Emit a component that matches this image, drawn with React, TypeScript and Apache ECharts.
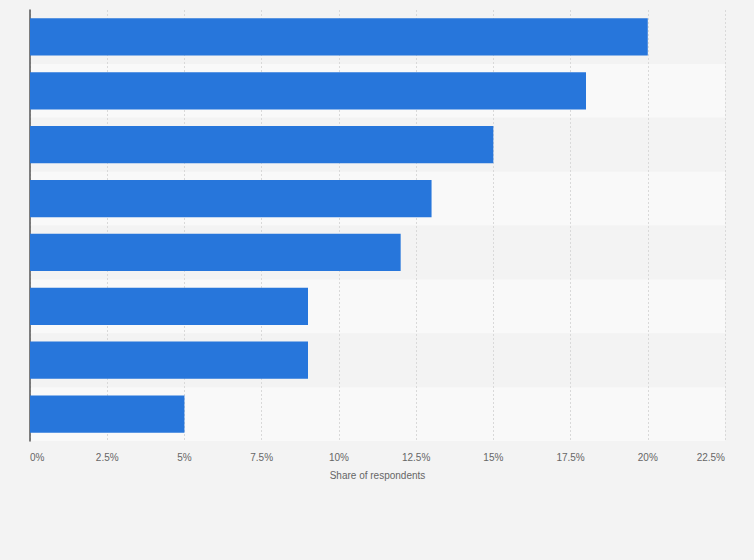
import React, { useEffect, useRef } from "react";
import * as echarts from "echarts";

const categories = ["A", "B", "C", "D", "E", "F", "G", "H"];
const values = [20, 18, 15, 13, 12, 9, 9, 5];
const tickMax = 22.5;
const tickStep = 2.5;

export default function App() {
  const ref = useRef<HTMLDivElement>(null);
  useEffect(() => {
    const chart = echarts.init(ref.current!, null, { renderer: "svg" });
    chart.setOption({
      animation: false,
      backgroundColor: "#f3f3f3",
      grid: { left: 30, right: 29, top: 10, bottom: 119, containLabel: false },
      xAxis: {
        type: "value",
        min: 0,
        max: tickMax,
        interval: tickStep,
        name: "Share of respondents",
        nameLocation: "middle",
        nameGap: 29,
        nameTextStyle: { color: "#666", fontSize: 10, fontFamily: "Arial, Liberation Sans, sans-serif" },
        axisLine: { show: false },
        axisTick: { show: false },
        axisLabel: {
          color: "#666",
          fontSize: 10,
          margin: 11,
          alignMinLabel: "left",
          alignMaxLabel: "right",
          fontFamily: "Arial, Liberation Sans, sans-serif",
          formatter: (v: number) => `${v}%`,
        },
        splitLine: { show: true, lineStyle: { color: "#d9d9d9", type: [2, 2], width: 1 } },
      },
      yAxis: {
        type: "category",
        data: categories,
        inverse: true,
        axisLine: { show: true, lineStyle: { color: "#555", width: 1.5 } },
        axisTick: { show: false },
        axisLabel: { show: false },
        splitArea: { show: true, areaStyle: { color: ["#f3f3f3", "#f9f9f9"] } },
      },
      series: [
        {
          type: "bar",
          data: values,
          barCategoryGap: "31%",
          itemStyle: { color: "#2776db" },
        },
      ],
    });
    return () => chart.dispose();
  }, []);
  return (
    <div
      ref={ref}
      style={{ position: "fixed", left: 0, top: 0, width: 754, height: 560 }}
    />
  );
}
